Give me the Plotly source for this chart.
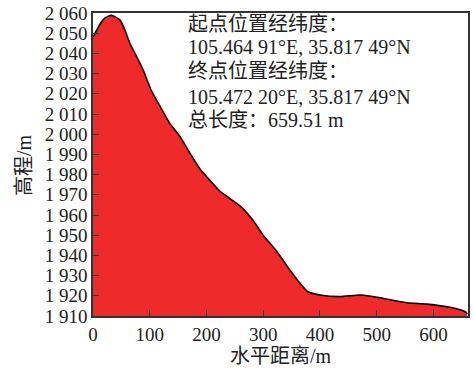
import plotly.graph_objects as go

distance_m = [0, 11.8, 20.6, 32.5, 47, 56, 64.8, 73.6, 88.2, 103, 117.7, 135, 153, 170, 188, 205, 223, 242, 262, 282,
              300, 324, 347, 365, 379, 400, 435, 470.6, 490, 512, 553, 588, 629.5, 656, 659.51]
elevation_m = [2048, 2054.2, 2057.5, 2058.8, 2056.7, 2051.7, 2045.1, 2040.2, 2031.9, 2021.5, 2014, 2005.5, 1999, 1991, 1983, 1977.5,
               1972, 1968, 1963.8, 1957.4, 1950, 1941.9, 1932.8, 1926.2, 1922, 1920.4, 1919.6, 1920.4, 1919.8, 1918.7,
               1916.6, 1915.9, 1914.3, 1912.1, 1911.0]

y_tick_vals = [1910, 1920, 1930, 1940, 1950, 1960, 1970, 1980, 1990, 2000, 2010, 2020, 2030, 2040, 2050, 2060]
y_tick_text = ["1 910", "1 920", "1 930", "1 940", "1 950", "1 960", "1 970", "1 980",
               "1 990", "2 000", "2 010", "2 020", "2 030", "2 040", "2 050", "2 060"]
x_tick_vals = [0, 100, 200, 300, 400, 500, 600]

info_lines = ["起点位置经纬度：", "105.464 91°E, 35.817 49°N", "终点位置经纬度：",
              "105.472 20°E, 35.817 49°N", "总长度：659.51 m"]
x_title = "水平距离/m"
y_title = "高程/m"

FONT = "Liberation Serif, Noto Sans CJK SC, serif"

W, H = 473, 370
L, R, T, B = 93, 5, 13, 54
pw, ph = W - L - R, H - T - B


def px_to_paper(px, py):
    return (px - L) / pw, 1 - (py - T) / ph


fig = go.Figure()
fig.add_trace(go.Scatter(
    x=distance_m, y=elevation_m, mode="lines",
    line=dict(color="black", width=1.6, shape="spline", smoothing=0.6),
    fill="tozeroy", fillcolor="#EE2A2A", hoverinfo="skip", showlegend=False,
))

line_y = [24, 47, 71, 97, 120]
for txt, py in zip(info_lines, line_y):
    ax_, ay_ = px_to_paper(186, py)
    fig.add_annotation(
        x=ax_, y=ay_, xref="paper", yref="paper", text=txt, showarrow=False,
        xanchor="left", yanchor="middle", font=dict(family=FONT, size=20, color="#222"),
    )

tx, ty = px_to_paper(281, 356)
fig.add_annotation(x=tx, y=ty, xref="paper", yref="paper", text=x_title, showarrow=False,
                   xanchor="center", yanchor="middle", font=dict(family=FONT, size=20, color="#222"))
tx, ty = px_to_paper(24, 165)
fig.add_annotation(x=tx, y=ty, xref="paper", yref="paper", text=y_title, showarrow=False, textangle=-90,
                   xanchor="center", yanchor="middle", font=dict(family=FONT, size=20, color="#222"))

fig.update_layout(
    width=W, height=H,
    margin=dict(l=L, r=R, t=T, b=B, autoexpand=False),
    paper_bgcolor="white", plot_bgcolor="white",
    font=dict(family=FONT, size=19, color="#222"),
    xaxis=dict(
        range=[0, 661], tickvals=x_tick_vals, ticks="inside", ticklen=6, tickcolor="#333",
        showline=True, linecolor="#333", linewidth=1.5, mirror=True, showgrid=False, zeroline=False,
        tickfont=dict(size=19), automargin=False,
    ),
    yaxis=dict(
        range=[1910, 2060], tickvals=y_tick_vals, ticktext=y_tick_text, ticks="inside", ticklen=6, tickcolor="#333",
        showline=True, linecolor="#333", linewidth=1.5, mirror=True, showgrid=False, zeroline=False,
        tickfont=dict(size=19), automargin=False,
    ),
)

fig.write_html("out.html", config={"displayModeBar": False},
               post_script="document.body.style.margin='0';")
